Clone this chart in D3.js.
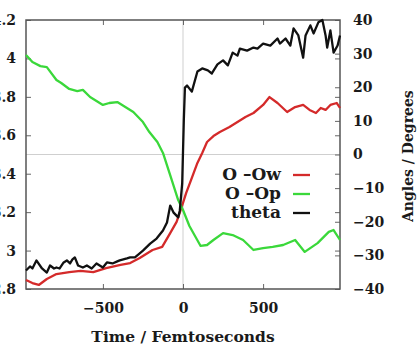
<!DOCTYPE html>
<html>
<head>
<meta charset="utf-8">
<script src="https://cdn.jsdelivr.net/npm/d3@7"></script>
<style>
  body { margin: 0; background: #fff; }
  svg { display: block; }
  .lbl { font-family: "DejaVu Serif", serif; font-weight: bold; fill: #1a1a1a; }
</style>
</head>
<body>
<svg id="chart"></svg>
<script>
// O-Ow distance (left axis, Angstrom)
const oowTime = [-980, -940, -900, -850, -790, -710, -640, -560, -480, -390, -330, -270, -190, -130, -80, -40, -10,
  20, 50, 90, 120, 150, 190, 230, 290, 340, 390, 440, 500, 540, 590, 650, 700, 750, 790, 830, 860, 890, 920, 960, 980];
const oowDist = [2.847, 2.831, 2.821, 2.852, 2.878, 2.888, 2.894, 2.888, 2.909, 2.925, 2.935, 2.961, 3.003, 3.019, 3.091, 3.149, 3.222,
  3.300, 3.367, 3.456, 3.508, 3.565, 3.596, 3.617, 3.643, 3.669, 3.695, 3.716, 3.758, 3.799, 3.768, 3.721, 3.747, 3.758, 3.732, 3.716, 3.742, 3.732, 3.758, 3.768, 3.742];

// O-Op distance (left axis, Angstrom)
const oopTime = [-980, -940, -890, -850, -790, -760, -710, -660, -625, -580, -500, -460, -410, -360, -310, -250, -210, -160, -125, -80, -30,
  0, 40, 110, 150, 190, 250, 310, 375, 440, 500, 560, 625, 700, 760, 840, 910, 940, 980];
const oopDist = [4.018, 3.981, 3.960, 3.955, 3.888, 3.872, 3.841, 3.830, 3.836, 3.799, 3.758, 3.768, 3.773, 3.747, 3.721, 3.669, 3.617, 3.565, 3.508, 3.393, 3.263,
  3.211, 3.128, 3.024, 3.029, 3.055, 3.091, 3.081, 3.055, 3.003, 3.013, 3.019, 3.029, 3.055, 2.993, 3.039, 3.097, 3.107, 3.055];

// theta (right axis, degrees)
const thetaTime = [-980, -955, -940, -915, -880, -850, -830, -805, -790, -770, -745, -725, -705, -690, -675, -655, -625, -600, -570, -540, -520, -500,
  -475, -440, -410, -395, -350, -330, -300, -250, -205, -165, -125, -100, -80, -60, -30, -20, -5, 5, 12, 25, 55, 90, 120, 155, 180, 215, 250, 280,
  310, 340, 355, 400, 440, 465, 500, 545, 590, 605, 640, 670, 690, 720, 750, 765, 795, 815, 845, 870, 890, 900, 920, 940, 965, 980];
const thetaDeg = [-34.5, -33.3, -33.9, -31.5, -33.9, -35.1, -33.0, -33.9, -33.6, -33.9, -32.1, -31.5, -32.4, -31.2, -30.6, -33.0, -33.6, -33.0, -33.9, -32.4, -33.0, -33.6,
  -32.1, -32.4, -31.8, -31.5, -30.9, -30.6, -30.6, -28.6, -26.5, -25.0, -22.6, -20.2, -15.2, -17.2, -18.7, -16.7, -8.6, 10.1, 19.9, 20.5, 18.7, 24.7, 25.6, 25.0, 24.1, 26.8, 28.0, 26.5,
  30.3, 29.4, 31.5, 30.9, 31.8, 31.5, 33.0, 32.4, 34.5, 33.0, 34.5, 32.4, 37.5, 35.4, 28.8, 35.4, 38.4, 36.0, 39.3, 40.0, 35.4, 31.8, 36.9, 30.3, 32.4, 35.4];

const xTicks = [-500, 0, 500];
const leftTicks = [2.8, 3, 3.2, 3.4, 3.6, 3.8, 4, 4.2];
const rightTicks = [-40, -30, -20, -10, 0, 10, 20, 30, 40];
const legendNames = ["O \u2013Ow", "O \u2013Op", "theta"];

const W = 417, H = 345;
const margin = { top: 20, right: 77, bottom: 56, left: 26 };
const width = W - margin.left - margin.right;
const height = H - margin.top - margin.bottom;
const colors = ["#d42a2a", "#3ad83a", "#111111"];

const svg = d3.select("#chart").attr("width", W).attr("height", H);
const g = svg.append("g").attr("transform", `translate(${margin.left},${margin.top})`);

const x = d3.scaleLinear().domain([-980, 980]).range([0, width]);
const yL = d3.scaleLinear().domain([2.8, 4.2]).range([height, 0]);
const yR = d3.scaleLinear().domain([-40, 40]).range([height, 0]);

// zero lines
g.append("line").attr("x1", 0).attr("x2", width).attr("y1", yR(0)).attr("y2", yR(0))
  .attr("stroke", "#cfcfcf").attr("stroke-width", 1);
g.append("line").attr("x1", x(0)).attr("x2", x(0)).attr("y1", 0).attr("y2", height)
  .attr("stroke", "#cfcfcf").attr("stroke-width", 1);

const fmt = d3.format("~g");
const styleAxis = (sel, labels) => {
  sel.attr("font-family", null).attr("font-size", null);
  sel.select(".domain").remove();
  sel.selectAll(".tick line").attr("stroke", "#666").attr("stroke-width", 1);
  if (!labels) sel.selectAll(".tick text").remove();
  else sel.selectAll(".tick text").attr("class", "lbl").style("font-size", "14px").attr("fill", null);
};

g.append("g").attr("transform", `translate(0,${height})`)
  .call(d3.axisBottom(x).tickValues(xTicks).tickSize(-5).tickPadding(14).tickFormat(fmt))
  .call(s => styleAxis(s, true));
g.append("g")
  .call(d3.axisTop(x).tickValues(xTicks).tickSize(-5))
  .call(s => styleAxis(s, false));
g.append("g")
  .call(d3.axisLeft(yL).tickValues(leftTicks).tickSize(-5).tickPadding(10).tickFormat(fmt))
  .call(s => styleAxis(s, true));
g.append("g").attr("transform", `translate(${width},0)`)
  .call(d3.axisRight(yL).tickValues(leftTicks).tickSize(-5))
  .call(s => styleAxis(s, false));
g.append("g").attr("transform", `translate(${width},0)`)
  .call(d3.axisRight(yR).tickValues(rightTicks).tickSize(-5).tickPadding(13).tickFormat(fmt))
  .call(s => styleAxis(s, true));

// frame
g.append("rect").attr("width", width).attr("height", height)
  .attr("fill", "none").attr("stroke", "#555").attr("stroke-width", 1.5);

// series
const series = [
  { t: oowTime, v: oowDist, y: yL },
  { t: oopTime, v: oopDist, y: yL },
  { t: thetaTime, v: thetaDeg, y: yR }
];
series.forEach((s, i) => {
  const pts = s.t.map((t, j) => [t, s.v[j]]);
  g.append("path").datum(pts)
    .attr("fill", "none")
    .attr("stroke", colors[i])
    .attr("stroke-width", 2.3)
    .attr("stroke-linejoin", "round")
    .attr("d", d3.line().x(d => x(d[0])).y(d => s.y(d[1])));
});

// legend: text right edge at x=280, sample line 293-310
const leg = svg.append("g");
legendNames.forEach((name, i) => {
  leg.append("text").attr("class", "lbl").attr("x", 281).attr("y", 180 + i * 19)
    .attr("text-anchor", "end").style("font-size", "17px").text(name);
  leg.append("line").attr("x1", 293).attr("x2", 310).attr("y1", 175 + i * 19).attr("y2", 175 + i * 19)
    .attr("stroke", colors[i]).attr("stroke-width", 2.3);
});

// axis titles
svg.append("text").attr("class", "lbl").attr("x", margin.left + x(0)).attr("y", 342)
  .attr("text-anchor", "middle").style("font-size", "15.5px").text("Time / Femtoseconds");
svg.append("text").attr("class", "lbl")
  .attr("transform", "translate(413,222) rotate(-90)")
  .attr("text-anchor", "start")
  .style("font-size", "14px").text("Angles / Degrees");
</script>
</body>
</html>
